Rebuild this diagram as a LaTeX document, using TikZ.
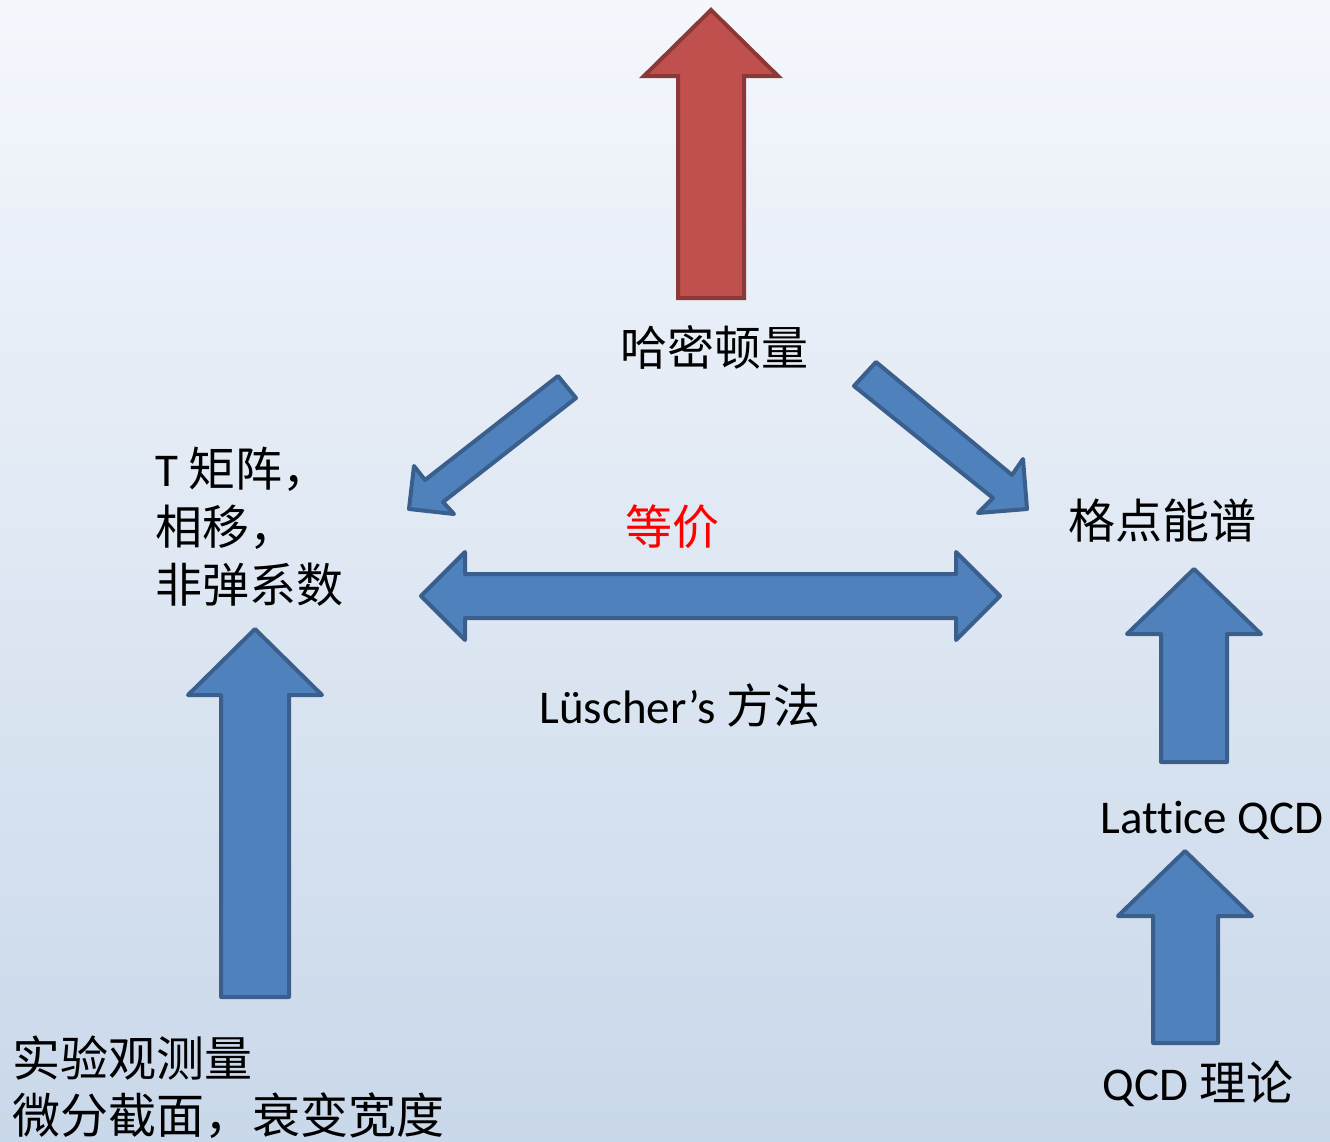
\documentclass[tikz,border=0pt]{standalone}
\usepackage{fontspec}
\setmainfont{Carlito}[Ligatures=NoCommon]
\newfontfamily\cjk{Noto Sans CJK SC}
\definecolor{bgtop}{HTML}{F4F7FC}
\definecolor{bgbot}{HTML}{C9D8EA}
\definecolor{bfill}{HTML}{4F81BD}
\definecolor{bline}{HTML}{3A5F8D}
\definecolor{rfill}{HTML}{C0504D}
\definecolor{rline}{HTML}{8C3836}
\begin{document}
\begin{tikzpicture}[x=1pt,y=-1pt,
  barrow/.style={fill=bfill,draw=bline,line width=4pt,line join=round},
  rarrow/.style={fill=rfill,draw=rline,line width=4pt,line join=miter},
  lbl/.style={inner sep=0pt,font=\fontsize{47}{57}\selectfont},
]
\useasboundingbox (0,0) rectangle (1330,1141);
\shade[top color=bgtop,bottom color=bgbot] (0,0) rectangle (1330,1141);

% red arrow up
\draw[rarrow] (711,10) -- (778,76) -- (744,76) -- (744,298) -- (678,298) -- (678,76) -- (644,76) -- cycle;

% down-left arrow
\draw[barrow] (558,376) -- (576,398) -- (443,502) -- (454,514) -- (409,509) -- (414,466) -- (425,480) -- cycle;

% down-right arrow
\draw[barrow] (876,362) -- (854,386) -- (993,498) -- (978,513) -- (1027,509) -- (1023,459) -- (1012,475) -- cycle;

% double arrow
\draw[barrow] (421,596) -- (465,552) -- (465,574) -- (956,574) -- (956,552) -- (1000,596) -- (956,640) -- (956,618) -- (465,618) -- (465,640) -- cycle;

% left up arrow
\draw[barrow] (255,629) -- (322,695) -- (289,695) -- (289,997) -- (221,997) -- (221,695) -- (188,695) -- cycle;

% right upper arrow
\draw[barrow] (1194,569) -- (1261,634) -- (1227,634) -- (1227,762) -- (1161,762) -- (1161,634) -- (1127,634) -- cycle;

% right lower arrow
\draw[barrow] (1185,851) -- (1252,916) -- (1218,916) -- (1218,1043) -- (1153,1043) -- (1153,916) -- (1118,916) -- cycle;

% labels
\node[lbl] (ham) at (714,347) {\cjk 哈密顿量};
\node[lbl,align=left,anchor=west,font=\fontsize{47}{58}\selectfont] (tmat) at (155,527) {T {\cjk 矩阵，}\\{\cjk 相移，}\\{\cjk 非弹系数}};
\node[lbl,text=red] (eq) at (672,527) {\cjk 等价};
\node[lbl] (lat) at (1162,521) {\cjk 格点能谱};
\node[lbl] (lus) at (680,706) {Lüscher’s {\cjk 方法}};
\node[lbl] (lqcd) at (1212,820) {Lattice QCD};
\node[lbl,align=left,anchor=west,font=\fontsize{48}{57}\selectfont] (exp) at (12,1087) {\cjk 实验观测量\\\cjk 微分截面，衰变宽度};
\node[lbl] (qcd) at (1198,1084) {QCD {\cjk 理论}};
\end{tikzpicture}
\end{document}
